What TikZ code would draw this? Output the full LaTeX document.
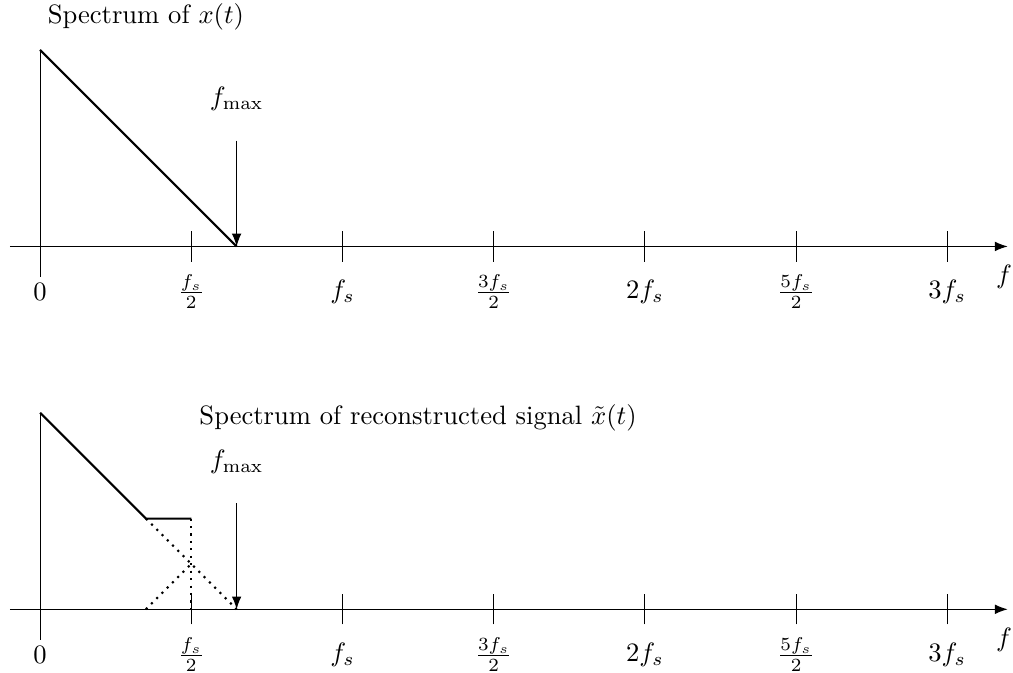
\documentclass[tikz,border=0pt]{standalone}
\usepackage{amsmath}
\usepackage{tikz}
\usetikzlibrary{arrows.meta}

\begin{document}
\begin{tikzpicture}[
	axis/.style={-Latex},
	spec/.style={thick},
	alias/.style={thick,dotted},
	fline/.style={-Latex},
	ticklbl/.style={inner sep=1pt}
]
	\useasboundingbox (-0.53,-5.64) rectangle (12.87,3.26);
	\begin{scope}
		\draw[axis] (-0.4,0)--(12.8,0);
		\draw (0,-0.4)--(0,2.6);
		\foreach \x/\l [count=\i] in {0/0, 2/\frac{f_s}{2}, 4/f_s, 6/\frac{3f_s}{2}, 8/2f_s, 10/\frac{5f_s}{2}, 12/3f_s} {
			\draw (\x,-0.2)--(\x,0.2);
			\node[ticklbl] (ta\i) at (\x,-0.6) {$\l$};
		}
		\node (fa) at (12.75,-0.4) {$f$};
		\draw[spec] (0,2.6)--(2.6,0);
		\node (fmaxa) at (2.6,1.95) {$f_{\max}$};
		\coordinate (fmaxtopa) at (2.6,1.4);
		\coordinate (fmaxbota) at (2.6,0);
		\draw[fline] (fmaxtopa)--(fmaxbota);
		\node (titlea) at (1.4,3.04) {Spectrum of $x(t)$};
	\end{scope}
	\begin{scope}[yshift=-4.8cm]
		\draw[axis] (-0.4,0)--(12.8,0);
		\draw (0,-0.4)--(0,2.6);
		\foreach \x/\l [count=\i] in {0/0, 2/\frac{f_s}{2}, 4/f_s, 6/\frac{3f_s}{2}, 8/2f_s, 10/\frac{5f_s}{2}, 12/3f_s} {
			\draw (\x,-0.2)--(\x,0.2);
			\node[ticklbl] (tb\i) at (\x,-0.6) {$\l$};
		}
		\node (fb) at (12.75,-0.4) {$f$};
		\draw[spec] (0,2.6)--(1.4,1.2)--(2,1.2);
		\draw[alias] (1.4,1.2)--(2.6,0);
		\draw[alias] (1.4,0)--(2,0.6);
		\draw[alias] (2,1.2)--(2,0);
		\node (fmaxb) at (2.6,1.95) {$f_{\max}$};
		\coordinate (fmaxtopb) at (2.6,1.4);
		\coordinate (fmaxbotb) at (2.6,0);
		\draw[fline] (fmaxtopb)--(fmaxbotb);
		\node (titleb) at (5,2.53) {Spectrum of reconstructed signal $\tilde{x}(t)$};
	\end{scope}
\end{tikzpicture}
\end{document}
